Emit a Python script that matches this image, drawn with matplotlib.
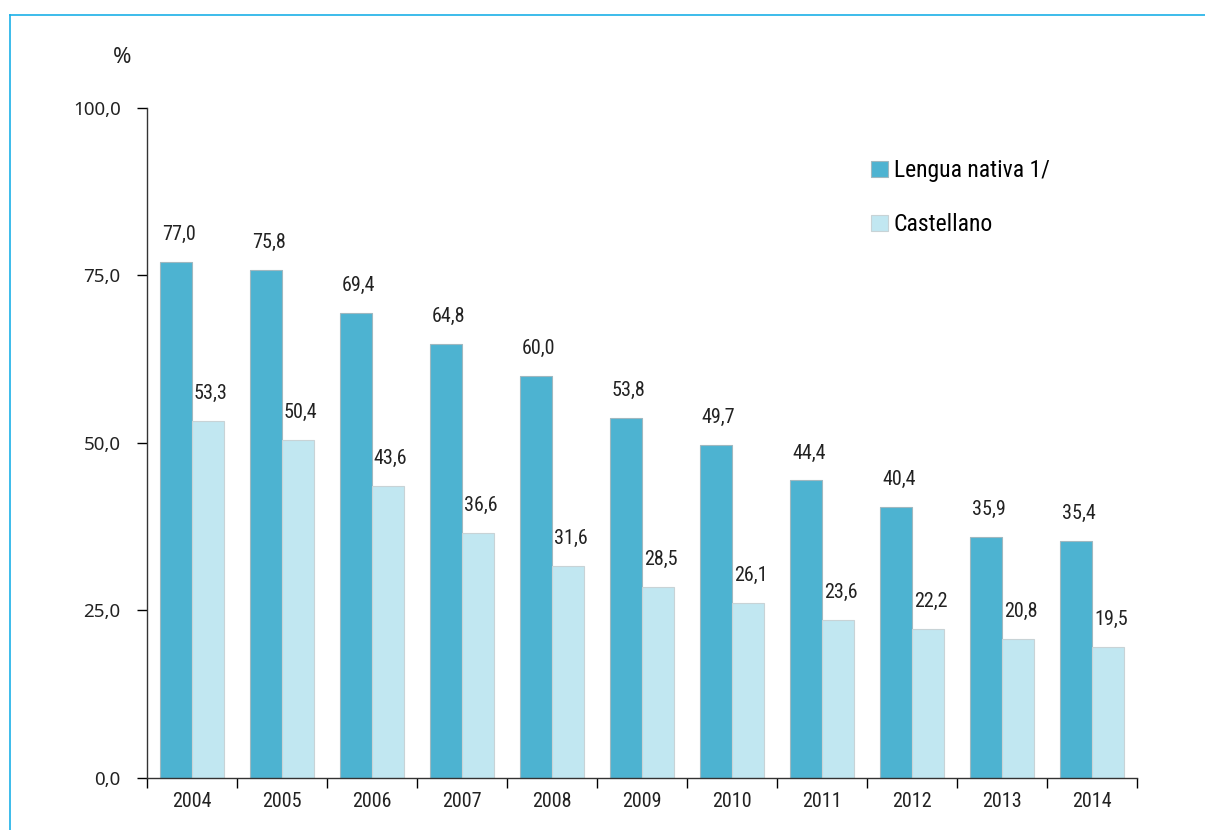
import matplotlib.pyplot as plt
import numpy as np
from matplotlib import font_manager
from matplotlib.lines import Line2D


years      = ["2004", "2005", "2006", "2007", "2008", "2009",
              "2010", "2011", "2012", "2013", "2014"]
nativa     = [77.0, 75.8, 69.4, 64.8, 60.0, 53.8, 49.7, 44.4, 40.4, 35.9, 35.4]
castellano = [53.3, 50.4, 43.6, 36.6, 31.6, 28.5, 26.1, 23.6, 22.2, 20.8, 19.5]
y_ticks    = [0, 25, 50, 75, 100]

DARK  = "#4DB3D1"
LIGHT = "#C1E7F1"


def pick_font(candidates):
    names = {f.name for f in font_manager.fontManager.ttflist}
    for c in candidates:
        if c in names:
            return [c, "DejaVu Sans"]
    return ["DejaVu Sans"]


NARROW = pick_font(["Liberation Sans Narrow", "Roboto Condensed",
                    "DejaVu Sans Condensed", "Liberation Sans"])
TICKF  = pick_font(["Noto Sans", "Open Sans", "DejaVu Sans"])
narrow_sz = 14.5 if NARROW[0] != "Liberation Sans" else 13


def fmt(v):
    return f"{v:.1f}".replace(".", ",")


fig = plt.figure(figsize=(12.05, 8.30), dpi=100)
ax = fig.add_axes([0.122, 0.0627, 0.8216, 0.8072])

x = np.arange(len(years))
w = 0.356

b1 = ax.bar(x - w / 2, nativa, w, color=DARK, edgecolor="#9fb8c0",
            linewidth=0.8, label="Lengua nativa 1/")
b2 = ax.bar(x + w / 2, castellano, w, color=LIGHT, edgecolor="#c8d3d6",
            linewidth=0.8, label="Castellano")

for bars, vals in ((b1, nativa), (b2, castellano)):
    for rect, v in zip(bars, vals):
        ax.annotate(fmt(v), (rect.get_x() + rect.get_width() / 2 + 0.03, v),
                    xytext=(0, 13), textcoords="offset points",
                    ha="center", va="bottom", fontsize=narrow_sz,
                    family=NARROW, color="#222222")

ax.set_xlim(-0.5, len(years) - 0.5)
ax.set_ylim(0, 100)
ax.set_yticks(y_ticks)
ax.set_yticklabels([fmt(v) for v in y_ticks], family=TICKF, fontsize=13.5,
                   color="#222222")
ax.set_xticks(x)
ax.set_xticklabels(years, family=NARROW, fontsize=narrow_sz, color="#222222")
ax.tick_params(axis="x", length=0, pad=10)
ax.set_xticks(np.arange(len(years) + 1) - 0.5, minor=True)
ax.tick_params(axis="x", which="minor", length=7, width=1, direction="out")
ax.tick_params(axis="y", length=7, width=1, direction="out", pad=12)

for side in ("top", "right"):
    ax.spines[side].set_visible(False)
for side in ("left", "bottom"):
    ax.spines[side].set_color("#333333")
    ax.spines[side].set_linewidth(1)

ax.text(-0.025, 1.075, "%", transform=ax.transAxes, fontsize=16,
        family=TICKF, ha="center", va="center", color="#222222")

ax.legend(loc="upper left", bbox_to_anchor=(0.71, 0.955), frameon=False,
          prop={"family": NARROW, "size": narrow_sz + 2.5}, handlelength=0.7,
          handleheight=0.7, handletextpad=0.25, labelspacing=1.3)

fig.add_artist(Line2D([10 / 1205, 1], [1 - 15 / 830] * 2, color="#1BB0E8",
                      linewidth=1.2, transform=fig.transFigure))
fig.add_artist(Line2D([10 / 1205] * 2, [0, 1 - 15 / 830], color="#1BB0E8",
                      linewidth=1.2, transform=fig.transFigure))

fig.savefig("out.png", dpi=100)
